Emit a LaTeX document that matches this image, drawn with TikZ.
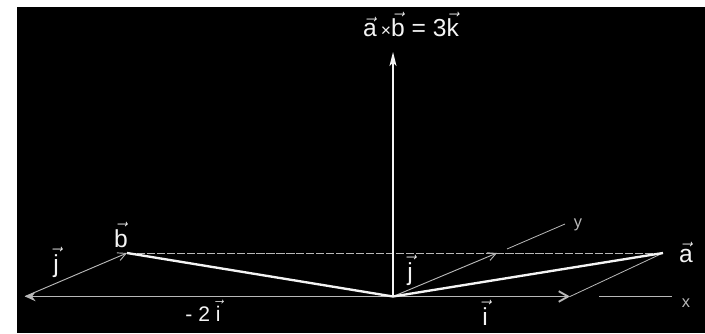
\documentclass[tikz,border=0pt]{standalone}
\usepackage{amsmath}
\usepackage{fontspec}
\setmainfont{Liberation Sans}
\usetikzlibrary{arrows.meta,positioning}
\definecolor{Chalk}{HTML}{F4F4F4}
\definecolor{Dust}{HTML}{B8B8B8}
\newcommand{\vlet}[1]{\ensuremath{\vec{\text{#1}}}}

\begin{document}
\begin{tikzpicture}[x=0.03cm,y=0.03cm,
    lbl/.style={text=Chalk,inner sep=0pt,anchor=base,font=\fontsize{21}{24}\selectfont},
    small/.style={text=Dust,inner sep=0pt,anchor=base,font=\fontsize{14}{16}\selectfont},
    vecline/.style={draw=Chalk,line width=2pt},
    unitline/.style={draw=Dust,line width=0.8pt},
    axisline/.style={draw=Dust,line width=0.7pt}]
  \useasboundingbox (0,0) rectangle (705,333);
  \fill[white] (0,0) rectangle (705,333);
  \fill[black] (17,0) rectangle (705,326);
  % points in the xy plane
  \coordinate (O) at (393,36.5);
  \coordinate (L) at (25,36.5);
  \coordinate (I) at (570,36.5);
  \coordinate (B) at (127,80);
  \coordinate (A) at (663,80);
  \coordinate (J) at (497,80);
  \coordinate (K) at (393,281);
  \coordinate (ya) at (507,84);
  \coordinate (yb) at (565,109);
  \coordinate (xa) at (599,36.5);
  \coordinate (xb) at (672,36.5);
  % labels
  \node[lbl] (prod) at (411,296) {\vlet{a}\,{\fontsize{15}{17}\selectfont ×}\vlet{b} = 3\vlet{k}};
  \node[lbl] (bl) at (121,86) {\vlet{b}};
  \node[lbl] (al) at (686,71) {\vlet{a}};
  \node[lbl] (jr) at (410,53) {\vlet{j}};
  \node[lbl] (jl) at (56,61) {\vlet{j}};
  \node[lbl] (il) at (485,8) {\vlet{i}};
  \node[lbl,font=\fontsize{18}{20}\selectfont] (ml) at (203,12) {- 2 \vlet{i}};
  \node[small] (yl) at (578,106) {y};
  \node[small] (xl) at (686,26) {x};
  % axes and parallelogram
  \draw[axisline] (ya) -- (yb);
  \draw[axisline] (xa) -- (xb);
  \draw[axisline,dash pattern=on 7pt off 1.5pt] (B) -- (A);
  \draw[axisline] (I) -- (A);
  \draw[draw=Dust,line width=1.6pt,-{Stealth[length=9pt,width=8pt,inset=3pt]}] (O) -- (L);
  \draw[draw=Dust,line width=1.6pt,-{Straight Barb[length=8pt,width=9pt]}] (O) -- (I);
  \draw[unitline,-{Straight Barb[length=7pt,width=7pt]}] (L) -- (B);
  \draw[unitline,-{Straight Barb[length=7pt,width=7pt]}] (O) -- (J);
  % vectors
  \draw[vecline] (O) -- (B);
  \draw[vecline] (O) -- (A);
  \draw[draw=Chalk,line width=1.3pt,-{Stealth[length=12pt,width=6pt,inset=3pt]}] (O) -- (K);
\end{tikzpicture}
\end{document}
